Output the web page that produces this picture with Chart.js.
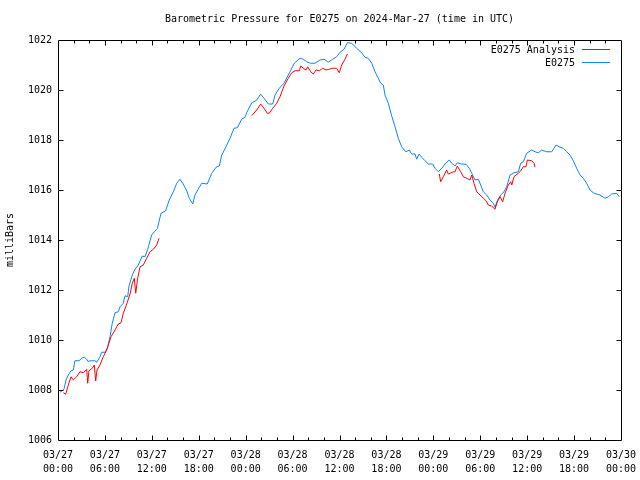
<!DOCTYPE html>
<html>
<head>
<meta charset="utf-8">
<script src="https://cdn.jsdelivr.net/npm/chart.js@4.4.1/dist/chart.umd.min.js"></script>
<style>
html,body{margin:0;padding:0;background:#fff;}
#wrap{width:640px;height:480px;}
</style>
</head>
<body>
<div id="wrap"><canvas id="c" width="640" height="480"></canvas></div>
<script>
// ---- data (hours since 2024-03-27 00:00 UTC, pressure in mbar) ----
const stationHours = [0.26,0.77,1.02,1.32,1.66,1.96,2.17,2.69,3.03,3.36,3.67,3.88,4.09,4.73,4.95,5.37,5.59,6.01,6.36,6.65,6.94,7.29,7.71,7.93,8.35,8.57,8.91,9.08,9.50,9.85,10.27,10.78,11.13,11.47,11.98,12.32,12.72,13.17,13.75,14.23,14.75,15.18,15.60,15.95,16.46,16.79,17.23,17.52,18.07,18.38,19.09,19.66,20.21,20.63,20.94,21.49,22.00,22.51,22.93,23.49,23.92,24.13,24.77,25.32,25.92,26.35,26.90,27.46,27.75,28.30,28.90,29.67,30.22,30.95,31.37,31.81,32.32,32.87,33.51,34.02,34.57,35.13,35.64,36.07,36.58,37.00,37.56,38.20,38.84,39.26,39.68,40.12,40.54,40.96,41.27,41.60,41.82,42.24,42.68,43.10,43.52,43.95,44.47,44.93,45.23,45.66,45.87,46.17,46.51,46.94,47.36,47.92,48.21,48.64,49.07,49.49,50.04,50.35,50.77,51.07,51.63,52.18,52.60,52.91,53.33,53.75,54.06,54.39,54.83,55.25,55.67,55.89,56.18,56.62,57.04,57.38,57.81,58.32,58.87,59.17,59.51,59.94,60.58,61.00,61.42,61.86,62.50,63.14,63.69,64.20,64.62,65.06,65.48,65.90,66.33,66.76,67.18,67.61,68.04,68.55,69.32,69.95,70.38,70.81,71.45,71.78];
const stationValues = [1007.91,1008.03,1008.40,1008.60,1008.77,1008.80,1009.17,1009.17,1009.27,1009.31,1009.23,1009.13,1009.17,1009.17,1009.11,1009.33,1009.51,1009.51,1009.71,1010.13,1010.67,1011.09,1011.13,1011.33,1011.47,1011.77,1011.73,1012.16,1012.60,1012.83,1013.00,1013.36,1013.33,1013.63,1014.20,1014.33,1014.47,1015.07,1015.16,1015.60,1015.93,1016.27,1016.43,1016.27,1015.97,1015.67,1015.44,1015.80,1016.11,1016.27,1016.24,1016.67,1016.91,1016.96,1017.40,1017.73,1018.07,1018.47,1018.49,1018.83,1018.91,1019.09,1019.49,1019.57,1019.83,1019.67,1019.44,1019.44,1019.80,1020.07,1020.27,1020.73,1021.07,1021.27,1021.23,1021.13,1021.07,1021.07,1021.20,1021.23,1021.11,1021.23,1021.33,1021.51,1021.63,1021.89,1021.87,1021.67,1021.49,1021.31,1021.27,1021.07,1020.73,1020.47,1020.27,1020.20,1019.80,1019.47,1018.96,1018.53,1018.07,1017.73,1017.53,1017.60,1017.44,1017.44,1017.23,1017.44,1017.31,1017.17,1017.04,1017.04,1016.87,1016.73,1016.87,1017.04,1017.20,1017.07,1016.96,1017.09,1017.04,1017.03,1016.87,1016.67,1016.40,1016.43,1016.20,1015.93,1015.80,1015.60,1015.47,1015.31,1015.57,1015.80,1015.93,1016.13,1016.60,1016.69,1016.73,1017.07,1017.13,1017.47,1017.60,1017.53,1017.49,1017.60,1017.53,1017.53,1017.80,1017.71,1017.67,1017.53,1017.40,1017.17,1016.87,1016.60,1016.47,1016.27,1016.00,1015.87,1015.80,1015.67,1015.73,1015.84,1015.87,1015.73];

// analysis series: three runs, separated by null gaps
const analysisHours = [0.68,0.98,1.32,1.66,1.96,2.39,2.81,3.24,3.67,3.80,3.96,4.39,4.64,4.82,4.99,5.37,5.79,6.23,6.43,6.78,7.29,7.71,8.06,8.35,8.79,9.21,9.50,9.76,9.94,10.19,10.49,10.91,11.34,11.77,12.19,12.62,12.92,
  18.0,
  24.77,25.41,25.92,26.35,26.77,27.02,27.46,27.97,28.39,28.90,29.45,29.89,30.31,30.86,31.04,31.37,31.72,31.93,32.32,32.65,33.00,33.42,33.85,34.27,34.69,35.13,35.64,35.97,36.28,36.70,37.00,
  43.0,
  48.76,48.94,49.27,49.71,49.91,50.55,50.77,51.07,51.50,51.83,52.27,52.69,52.91,53.20,53.55,53.97,54.39,54.74,55.03,55.46,55.89,56.18,56.53,56.87,57.17,57.59,57.90,58.03,58.32,58.87,59.08,59.51,59.85,60.02,60.58,60.87,61.00];
const analysisValues = [1007.89,1007.83,1008.20,1008.53,1008.40,1008.53,1008.73,1008.69,1008.83,1008.27,1008.77,1008.87,1009.00,1008.36,1008.80,1009.00,1009.33,1009.60,1009.80,1010.13,1010.40,1010.64,1010.69,1011.07,1011.44,1011.84,1012.27,1012.47,1011.87,1012.47,1012.93,1013.00,1013.27,1013.53,1013.63,1013.80,1014.07,
  null,
  1018.97,1019.20,1019.44,1019.27,1019.07,1019.07,1019.27,1019.47,1019.73,1020.16,1020.47,1020.69,1020.77,1020.77,1020.96,1020.87,1020.80,1020.93,1020.73,1020.64,1020.80,1020.77,1020.87,1020.80,1020.83,1020.87,1020.87,1020.69,1021.00,1021.23,1021.44,
  null,
  1016.64,1016.33,1016.53,1016.80,1016.64,1016.73,1016.73,1016.96,1016.73,1016.53,1016.47,1016.40,1016.60,1016.27,1015.93,1015.80,1015.67,1015.57,1015.40,1015.36,1015.23,1015.53,1015.73,1015.53,1015.87,1016.20,1016.33,1016.20,1016.53,1016.67,1016.73,1016.93,1016.93,1017.20,1017.17,1017.07,1016.91];

const xTickLabels = [["03/27","00:00"],["03/27","06:00"],["03/27","12:00"],["03/27","18:00"],["03/28","00:00"],["03/28","06:00"],["03/28","12:00"],["03/28","18:00"],["03/29","00:00"],["03/29","06:00"],["03/29","12:00"],["03/29","18:00"],["03/30","00:00"]];
const yTickValues = [1006,1008,1010,1012,1014,1016,1018,1020,1022];

const seriesNames = ["E0275 Analysis","E0275"];
const titleText = "Barometric Pressure for E0275 on 2024-Mar-27 (time in UTC)";
const yAxisTitle = "milliBars";

const FONT = "'DejaVu Sans Mono', 'Liberation Mono', monospace";
const RED = "#ff0000";
const BLUE = "#0a84ff";

const toPts = (hs, vs) => hs.map((h, i) => ({x: h, y: vs[i]}));

// box, inward ticks and legend in gnuplot style
const gnuplotFrame = {
  id: 'gnuplotFrame',
  afterDatasetsDraw(chart) {
    const {ctx, chartArea: a, scales: {x, y}} = chart;
    ctx.save();
    ctx.strokeStyle = '#000';
    ctx.lineWidth = 1;
    const L = Math.round(a.left) + 0.5, R = Math.round(a.right) + 0.5;
    const T = Math.round(a.top) + 0.5, B = Math.round(a.bottom) + 0.5;
    ctx.beginPath();
    ctx.rect(L, T, R - L, B - T);
    // x ticks every 2h, major every 6h
    for (let h = 2; h < 72; h += 2) {
      const px = Math.round(x.getPixelForValue(h)) + 0.5;
      const len = (h % 6 === 0) ? 5 : 3;
      ctx.moveTo(px, B); ctx.lineTo(px, B - len);
      ctx.moveTo(px, T); ctx.lineTo(px, T + len);
    }
    for (const v of yTickValues) {
      if (v === 1006 || v === 1022) continue;
      const py = Math.round(y.getPixelForValue(v)) + 0.5;
      ctx.moveTo(L, py); ctx.lineTo(L + 5, py);
      ctx.moveTo(R, py); ctx.lineTo(R - 5, py);
    }
    ctx.stroke();
    // legend
    ctx.font = "10px " + FONT;
    ctx.textAlign = 'right';
    ctx.textBaseline = 'middle';
    chart.data.datasets.forEach((ds, i) => {
      const yy = 50 + i * 13;
      ctx.fillStyle = '#000';
      ctx.fillText(ds.label, 575, yy + 0.5);
      ctx.strokeStyle = ds.borderColor;
      ctx.beginPath();
      ctx.moveTo(582, yy - 0.5); ctx.lineTo(610, yy - 0.5);
      ctx.stroke();
    });
    ctx.restore();
  }
};

new Chart(document.getElementById('c'), {
  type: 'line',
  data: {
    datasets: [
      {label: seriesNames[0], data: toPts(analysisHours, analysisValues), borderColor: RED, borderWidth: 1, pointRadius: 0, spanGaps: false, tension: 0, order: 1},
      {label: seriesNames[1], data: toPts(stationHours, stationValues), borderColor: BLUE, borderWidth: 1, pointRadius: 0, tension: 0, order: 2}
    ]
  },
  options: {
    responsive: false,
    animation: false,
    layout: {padding: {left: 0, right: 19, top: 0, bottom: 0}},
    plugins: {
      legend: {display: false},
      tooltip: {enabled: false},
      title: {display: true, fullSize: false, text: titleText, color: '#000', font: {family: FONT, size: 10, weight: 'normal', lineHeight: 1.2}, padding: {top: 13, bottom: 15}}
    },
    scales: {
      x: {
        type: 'linear', min: 0, max: 72,
        grid: {display: false, drawTicks: false},
        border: {display: false},
        afterFit: s => { s.height = 40; s.paddingRight = 0; s.paddingLeft = 0; },
        ticks: {
          stepSize: 2, autoSkip: false, maxRotation: 0, padding: 8, color: '#000',
          font: {family: FONT, size: 10, lineHeight: 1.4},
          callback: v => (v % 6 === 0) ? xTickLabels[v / 6] : ''
        }
      },
      y: {
        min: 1006, max: 1022,
        grid: {display: false, drawTicks: false},
        border: {display: false},
        afterFit: s => { s.width = 58; s.paddingTop = 0; s.paddingBottom = 0; },
        title: {display: true, text: yAxisTitle, color: '#000', font: {family: FONT, size: 10}, padding: {top: 4, bottom: 0}},
        ticks: {stepSize: 2, padding: 6, color: '#000', font: {family: FONT, size: 10},
          callback: v => String(v)}
      }
    }
  },
  plugins: [gnuplotFrame]
});
</script>
</body>
</html>
